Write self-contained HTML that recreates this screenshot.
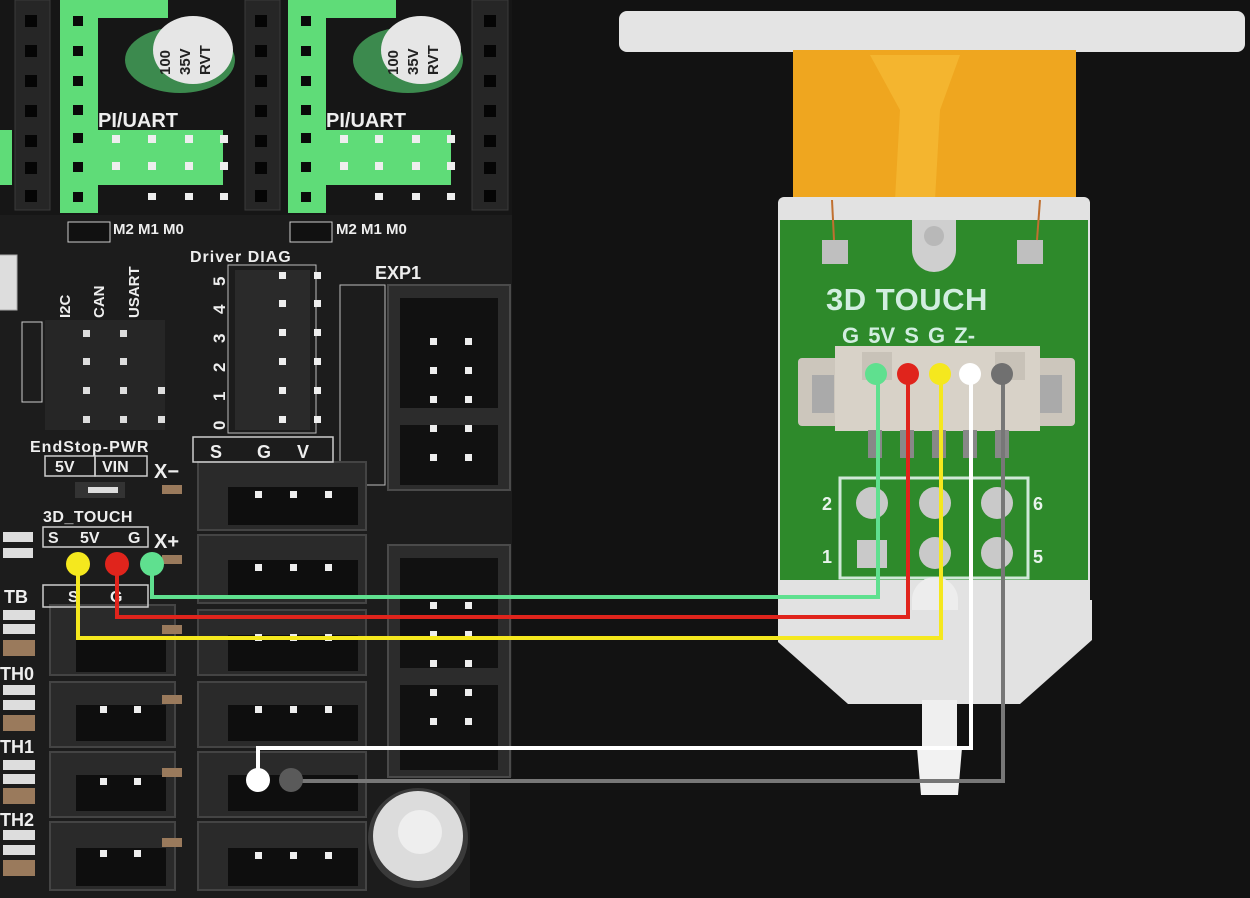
<!DOCTYPE html>
<html><head><meta charset="utf-8"><style>
html,body{margin:0;padding:0;background:#121212;}
svg{display:block;}
text{font-family:"Liberation Sans",sans-serif;}
</style></head><body>
<svg width="1250" height="898" viewBox="0 0 1250 898" xmlns="http://www.w3.org/2000/svg">
<rect width="1250" height="898" fill="#121212"/>
<!-- BOARD -->
<path d="M0 0 H512 V777 H470 V898 H0 Z" fill="#1c1c1c"/>
<!-- driver modules top -->
<rect x="0" y="0" width="512" height="215" fill="#161616"/>
<g fill="#262626" stroke="#3a3a3a">
<rect x="15" y="0" width="35" height="210"/><rect x="245" y="0" width="35" height="210"/><rect x="472" y="0" width="36" height="210"/>
</g>
<g fill="#050505">
<rect x="25" y="15" width="12" height="12"/><rect x="25" y="45" width="12" height="12"/><rect x="25" y="75" width="12" height="12"/><rect x="25" y="105" width="12" height="12"/><rect x="25" y="135" width="12" height="12"/><rect x="25" y="162" width="12" height="12"/><rect x="25" y="190" width="12" height="12"/>
<rect x="255" y="15" width="12" height="12"/><rect x="255" y="45" width="12" height="12"/><rect x="255" y="75" width="12" height="12"/><rect x="255" y="105" width="12" height="12"/><rect x="255" y="135" width="12" height="12"/><rect x="255" y="162" width="12" height="12"/><rect x="255" y="190" width="12" height="12"/>
<rect x="484" y="15" width="12" height="12"/><rect x="484" y="45" width="12" height="12"/><rect x="484" y="75" width="12" height="12"/><rect x="484" y="105" width="12" height="12"/><rect x="484" y="135" width="12" height="12"/><rect x="484" y="162" width="12" height="12"/><rect x="484" y="190" width="12" height="12"/>
</g>
<g fill="#5fdc78">
<rect x="60" y="0" width="38" height="213"/><rect x="288" y="0" width="38" height="213"/>
<rect x="98" y="0" width="70" height="18"/><rect x="326" y="0" width="70" height="18"/>
<rect x="98" y="130" width="125" height="55"/><rect x="326" y="130" width="125" height="55"/>
<rect x="0" y="130" width="12" height="55"/>
</g>
<g fill="#0a0a0a">
<rect x="73" y="16" width="10" height="10"/><rect x="73" y="46" width="10" height="10"/><rect x="73" y="76" width="10" height="10"/><rect x="73" y="105" width="10" height="10"/><rect x="73" y="133" width="10" height="10"/><rect x="73" y="162" width="10" height="10"/><rect x="73" y="192" width="10" height="10"/>
<rect x="301" y="16" width="10" height="10"/><rect x="301" y="46" width="10" height="10"/><rect x="301" y="76" width="10" height="10"/><rect x="301" y="105" width="10" height="10"/><rect x="301" y="133" width="10" height="10"/><rect x="301" y="162" width="10" height="10"/><rect x="301" y="192" width="10" height="10"/>
</g>
<g fill="#eee">
<rect x="112" y="135" width="8" height="8"/><rect x="148" y="135" width="8" height="8"/><rect x="185" y="135" width="8" height="8"/><rect x="220" y="135" width="8" height="8"/>
<rect x="112" y="162" width="8" height="8"/><rect x="148" y="162" width="8" height="8"/><rect x="185" y="162" width="8" height="8"/><rect x="220" y="162" width="8" height="8"/>
<rect x="340" y="135" width="8" height="8"/><rect x="375" y="135" width="8" height="8"/><rect x="412" y="135" width="8" height="8"/><rect x="447" y="135" width="8" height="8"/>
<rect x="340" y="162" width="8" height="8"/><rect x="375" y="162" width="8" height="8"/><rect x="412" y="162" width="8" height="8"/><rect x="447" y="162" width="8" height="8"/>
<rect x="148" y="193" width="8" height="7"/><rect x="185" y="193" width="8" height="7"/><rect x="220" y="193" width="8" height="7"/>
<rect x="375" y="193" width="8" height="7"/><rect x="412" y="193" width="8" height="7"/><rect x="447" y="193" width="8" height="7"/>
</g>
<!-- capacitors -->
<g>
<ellipse cx="180" cy="60" rx="55" ry="33" fill="#3c8a4e"/><ellipse cx="193" cy="50" rx="40" ry="34" fill="#e6e6e6"/>
<ellipse cx="408" cy="60" rx="55" ry="33" fill="#3c8a4e"/><ellipse cx="421" cy="50" rx="40" ry="34" fill="#e6e6e6"/>
</g>
<g font-size="15" font-weight="bold" fill="#222">
<text transform="translate(170,75) rotate(-90)">100</text><text transform="translate(190,75) rotate(-90)">35V</text><text transform="translate(210,75) rotate(-90)">RVT</text>
<text transform="translate(398,75) rotate(-90)">100</text><text transform="translate(418,75) rotate(-90)">35V</text><text transform="translate(438,75) rotate(-90)">RVT</text>
</g>
<g fill="#eee" font-size="20" font-weight="bold">
<text x="98" y="127">PI/UART</text><text x="326" y="127">PI/UART</text>
</g>
<g fill="#eee" font-size="15" font-weight="bold">
<text x="113" y="234">M2 M1 M0</text><text x="336" y="234">M2 M1 M0</text>
<text x="190" y="262" font-size="16" letter-spacing="1">Driver DIAG</text>
<text x="375" y="279" font-size="18">EXP1</text>
</g>
<rect x="68" y="222" width="42" height="20" fill="#111" stroke="#ccc"/><rect x="290" y="222" width="42" height="20" fill="#111" stroke="#ccc"/>
<rect x="-5" y="255" width="22" height="55" fill="#ddd" stroke="#aaa"/>
<!-- jumper block -->
<rect x="22" y="322" width="20" height="80" fill="none" stroke="#ccc"/>
<rect x="45" y="320" width="120" height="110" fill="#262626"/>
<g fill="#ddd">
<rect x="83" y="330" width="7" height="7"/><rect x="120" y="330" width="7" height="7"/>
<rect x="83" y="358" width="7" height="7"/><rect x="120" y="358" width="7" height="7"/>
<rect x="83" y="387" width="7" height="7"/><rect x="120" y="387" width="7" height="7"/><rect x="158" y="387" width="7" height="7"/>
<rect x="83" y="416" width="7" height="7"/><rect x="120" y="416" width="7" height="7"/><rect x="158" y="416" width="7" height="7"/>
</g>
<g fill="#eee" font-size="15" font-weight="bold">
<text transform="translate(70,318) rotate(-90)">I2C</text>
<text transform="translate(104,318) rotate(-90)">CAN</text>
<text transform="translate(139,318) rotate(-90)">USART</text>
</g>
<!-- Driver DIAG header -->
<rect x="228" y="265" width="88" height="168" fill="none" stroke="#bbb"/>
<rect x="235" y="270" width="75" height="160" fill="#2a2a2a"/>
<g fill="#eee">
<rect x="279" y="272" width="7" height="7"/><rect x="314" y="272" width="7" height="7"/>
<rect x="279" y="300" width="7" height="7"/><rect x="314" y="300" width="7" height="7"/>
<rect x="279" y="329" width="7" height="7"/><rect x="314" y="329" width="7" height="7"/>
<rect x="279" y="358" width="7" height="7"/><rect x="314" y="358" width="7" height="7"/>
<rect x="279" y="387" width="7" height="7"/><rect x="314" y="387" width="7" height="7"/>
<rect x="279" y="416" width="7" height="7"/><rect x="314" y="416" width="7" height="7"/>
</g>
<g fill="#eee" font-size="17" font-weight="bold">
<text transform="translate(225,286) rotate(-90)">5</text><text transform="translate(225,314) rotate(-90)">4</text><text transform="translate(225,343) rotate(-90)">3</text><text transform="translate(225,372) rotate(-90)">2</text><text transform="translate(225,401) rotate(-90)">1</text><text transform="translate(225,430) rotate(-90)">0</text>
</g>
<!-- EXP1 / EXP2 -->
<rect x="340" y="285" width="45" height="200" fill="none" stroke="#bbb"/>
<g fill="#2c2c2c" stroke="#4a4a4a" stroke-width="2">
<rect x="388" y="285" width="122" height="205"/>
<rect x="388" y="545" width="122" height="232"/>
</g>
<g fill="#111">
<rect x="400" y="298" width="98" height="110"/><rect x="400" y="425" width="98" height="60"/>
<rect x="400" y="558" width="98" height="110"/><rect x="400" y="685" width="98" height="85"/>
</g>
<g fill="#eee">
<rect x="430" y="338" width="7" height="7"/><rect x="465" y="338" width="7" height="7"/>
<rect x="430" y="367" width="7" height="7"/><rect x="465" y="367" width="7" height="7"/>
<rect x="430" y="396" width="7" height="7"/><rect x="465" y="396" width="7" height="7"/>
<rect x="430" y="425" width="7" height="7"/><rect x="465" y="425" width="7" height="7"/>
<rect x="430" y="454" width="7" height="7"/><rect x="465" y="454" width="7" height="7"/>
<rect x="430" y="602" width="7" height="7"/><rect x="465" y="602" width="7" height="7"/>
<rect x="430" y="631" width="7" height="7"/><rect x="465" y="631" width="7" height="7"/>
<rect x="430" y="660" width="7" height="7"/><rect x="465" y="660" width="7" height="7"/>
<rect x="430" y="689" width="7" height="7"/><rect x="465" y="689" width="7" height="7"/>
<rect x="430" y="718" width="7" height="7"/><rect x="465" y="718" width="7" height="7"/>
</g>
<!-- JST connectors right column -->
<g fill="#2a2a2a" stroke="#444" stroke-width="2">
<rect x="198" y="462" width="168" height="68"/><rect x="198" y="535" width="168" height="68"/>
<rect x="198" y="610" width="168" height="65"/><rect x="198" y="682" width="168" height="65"/>
<rect x="198" y="752" width="168" height="65"/><rect x="198" y="822" width="168" height="68"/>
</g>
<g fill="#0e0e0e">
<rect x="228" y="487" width="130" height="38"/><rect x="228" y="560" width="130" height="38"/>
<rect x="228" y="635" width="130" height="36"/><rect x="228" y="705" width="130" height="36"/>
<rect x="228" y="775" width="130" height="36"/><rect x="228" y="848" width="130" height="38"/>
</g>
<g fill="#eee">
<rect x="255" y="491" width="7" height="7"/><rect x="290" y="491" width="7" height="7"/><rect x="325" y="491" width="7" height="7"/>
<rect x="255" y="564" width="7" height="7"/><rect x="290" y="564" width="7" height="7"/><rect x="325" y="564" width="7" height="7"/>
<rect x="255" y="634" width="7" height="7"/><rect x="290" y="634" width="7" height="7"/><rect x="325" y="634" width="7" height="7"/>
<rect x="255" y="706" width="7" height="7"/><rect x="290" y="706" width="7" height="7"/><rect x="325" y="706" width="7" height="7"/>
<rect x="255" y="852" width="7" height="7"/><rect x="290" y="852" width="7" height="7"/><rect x="325" y="852" width="7" height="7"/>
</g>
<!-- JST left column -->
<g fill="#2a2a2a" stroke="#444" stroke-width="2">
<rect x="50" y="605" width="125" height="70"/><rect x="50" y="682" width="125" height="65"/>
<rect x="50" y="752" width="125" height="65"/><rect x="50" y="822" width="125" height="68"/>
</g>
<g fill="#0e0e0e">
<rect x="76" y="640" width="90" height="32"/><rect x="76" y="705" width="90" height="36"/>
<rect x="76" y="775" width="90" height="36"/><rect x="76" y="848" width="90" height="38"/>
</g>
<g fill="#eee">
<rect x="100" y="706" width="7" height="7"/><rect x="134" y="706" width="7" height="7"/>
<rect x="100" y="778" width="7" height="7"/><rect x="134" y="778" width="7" height="7"/>
<rect x="100" y="850" width="7" height="7"/><rect x="134" y="850" width="7" height="7"/>
</g>
<!-- SMD parts -->
<g fill="#9a7a5c">
<rect x="162" y="485" width="20" height="9"/><rect x="162" y="555" width="20" height="9"/><rect x="162" y="625" width="20" height="9"/><rect x="162" y="695" width="20" height="9"/><rect x="162" y="768" width="20" height="9"/><rect x="162" y="838" width="20" height="9"/>
<rect x="3" y="640" width="32" height="16"/><rect x="3" y="715" width="32" height="16"/><rect x="3" y="788" width="32" height="16"/><rect x="3" y="860" width="32" height="16"/>
</g>
<g fill="#ddd">
<rect x="3" y="610" width="32" height="10"/><rect x="3" y="624" width="32" height="10"/><rect x="3" y="685" width="32" height="10"/><rect x="3" y="700" width="32" height="10"/><rect x="3" y="760" width="32" height="10"/><rect x="3" y="774" width="32" height="10"/><rect x="3" y="830" width="32" height="10"/><rect x="3" y="845" width="32" height="10"/>
<rect x="3" y="532" width="30" height="10"/><rect x="3" y="548" width="30" height="10"/>
</g>
<!-- boxes & labels -->
<g fill="none" stroke="#ccc" stroke-width="1.5">
<rect x="45" y="456" width="50" height="20"/><rect x="95" y="456" width="52" height="20"/>
<rect x="43" y="527" width="105" height="20"/>
<rect x="193" y="437" width="140" height="25"/>
<rect x="43" y="585" width="105" height="22"/>
</g>
<g fill="#eee" font-size="16" font-weight="bold">
<text x="30" y="452" letter-spacing="1">EndStop-PWR</text>
<text x="55" y="472">5V</text><text x="102" y="472">VIN</text>
<text x="154" y="478" font-size="20">X−</text>
<text x="43" y="522" letter-spacing="0.5">3D_TOUCH</text>
<text x="48" y="543">S</text><text x="80" y="543">5V</text><text x="128" y="543">G</text>
<text x="154" y="548" font-size="20">X+</text>
<text x="210" y="458" font-size="18">S</text><text x="257" y="458" font-size="18">G</text><text x="297" y="458" font-size="18">V</text>
<text x="4" y="603" font-size="18">TB</text>
<text x="0" y="680" font-size="18">TH0</text>
<text x="0" y="753" font-size="18">TH1</text>
<text x="0" y="826" font-size="18">TH2</text>
<text x="68" y="602">S</text><text x="110" y="602">G</text>
</g>
<rect x="75" y="482" width="50" height="16" fill="#333"/><rect x="88" y="487" width="30" height="6" fill="#ddd"/>
<!-- screw hole -->
<circle cx="418" cy="838" r="50" fill="#3a3a3a"/>
<circle cx="418" cy="836" r="45" fill="#dcdcdc"/>
<ellipse cx="420" cy="832" rx="22" ry="22" fill="#eeeeee"/>

<!-- 3D TOUCH -->
<rect x="619" y="11" width="626" height="41" rx="8" fill="#e4e4e4"/>
<rect x="793" y="50" width="283" height="150" fill="#efa61f"/>
<path d="M870 55 L900 110 L895 200 L935 200 L940 110 L960 55 Z" fill="#f6c03a" opacity="0.6"/>
<rect x="778" y="197" width="312" height="410" rx="6" fill="#e2e2e2"/>
<path d="M778 600 H1092 V640 L1020 704 H848 L778 642 Z" fill="#e2e2e2"/>
<rect x="922" y="700" width="35" height="50" fill="#efefef"/>
<path d="M917 748 H962 L958 795 H921 Z" fill="#f2f2f2"/>
<rect x="780" y="220" width="308" height="360" fill="#2e8a2b"/>
<path d="M912 220 V250 A22 22 0 0 0 956 250 V220 Z" fill="#cfcfcf"/>
<circle cx="934" cy="236" r="10" fill="#b8b8b8"/>
<rect x="822" y="240" width="26" height="24" fill="#bfbfbf"/><rect x="1017" y="240" width="26" height="24" fill="#bfbfbf"/>
<line x1="832" y1="200" x2="834" y2="240" stroke="#c07030" stroke-width="2"/><line x1="1040" y1="200" x2="1037" y2="240" stroke="#c07030" stroke-width="2"/>
<text x="826" y="310" font-size="31" font-weight="bold" fill="#d2eee0" letter-spacing="0.5">3D TOUCH</text>
<text x="842" y="343" font-size="22" font-weight="bold" fill="#d2eee0" word-spacing="3">G 5V S G Z-</text>
<!-- JST connector -->
<rect x="798" y="358" width="65" height="68" rx="4" fill="#ccc6bc"/>
<rect x="1015" y="358" width="60" height="68" rx="4" fill="#ccc6bc"/>
<rect x="835" y="346" width="205" height="85" fill="#d8d2c8"/>
<rect x="812" y="375" width="22" height="38" fill="#aaa"/><rect x="1040" y="375" width="22" height="38" fill="#aaa"/>
<rect x="862" y="352" width="30" height="28" fill="#c8c2b8"/><rect x="995" y="352" width="30" height="28" fill="#c8c2b8"/>
<g fill="#888"><rect x="868" y="430" width="14" height="28"/><rect x="900" y="430" width="14" height="28"/><rect x="932" y="430" width="14" height="28"/><rect x="963" y="430" width="14" height="28"/><rect x="995" y="430" width="14" height="28"/></g>
<!-- pads -->
<rect x="840" y="478" width="188" height="100" fill="none" stroke="#d0e8d8" stroke-width="3"/>
<g fill="#c9c9c9">
<circle cx="872" cy="503" r="16"/><circle cx="935" cy="503" r="16"/><circle cx="997" cy="503" r="16"/>
<rect x="857" y="540" width="30" height="28"/><circle cx="935" cy="553" r="16"/><circle cx="997" cy="553" r="16"/>
</g>
<g fill="#e8f4ec" font-size="18" font-weight="bold"><text x="822" y="510">2</text><text x="822" y="563">1</text><text x="1033" y="510">6</text><text x="1033" y="563">5</text></g>
<path d="M912 600 A23 23 0 0 1 958 600 V610 H912 Z" fill="#ededed"/>

<!-- WIRES -->
<g fill="none" stroke-width="4" stroke-linejoin="miter">
<polyline points="152,565 152,597 878,597 878,373" stroke="#5fe08f"/>
<polyline points="117,565 117,617 908,617 908,373" stroke="#e0241c"/>
<polyline points="78,565 78,638 941,638 941,373" stroke="#f5e81e"/>
<polyline points="258,780 258,748 971,748 971,373" stroke="#ffffff"/>
<polyline points="291,781 1003,781 1003,373" stroke="#777777"/>
</g>
<circle cx="78" cy="564" r="12" fill="#f5e81e"/>
<circle cx="117" cy="564" r="12" fill="#e0241c"/>
<circle cx="152" cy="564" r="12" fill="#5fe08f"/>
<circle cx="258" cy="780" r="12" fill="#ffffff"/>
<circle cx="291" cy="780" r="12" fill="#5a5a5a"/>
<circle cx="876" cy="374" r="11" fill="#5fe08f"/>
<circle cx="908" cy="374" r="11" fill="#e0241c"/>
<circle cx="940" cy="374" r="11" fill="#f5e81e"/>
<circle cx="970" cy="374" r="11" fill="#ffffff"/>
<circle cx="1002" cy="374" r="11" fill="#707070"/>
</svg>
</body></html>
